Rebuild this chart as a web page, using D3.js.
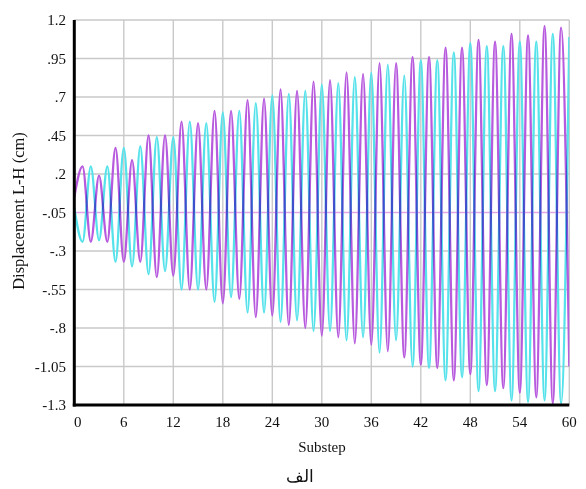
<!DOCTYPE html>
<html><head><meta charset="utf-8">
<script src="https://cdn.jsdelivr.net/npm/d3@7"></script>
<style>
html,body{margin:0;padding:0;background:#fff;}
svg{display:block;}
text{font-family:"Liberation Serif","Times New Roman",serif;fill:#111;}
</style></head>
<body>
<script>
const substeps = d3.range(0, 61);
const xTicks = [0, 6, 12, 18, 24, 30, 36, 42, 48, 54, 60];
const yTicks = [1.2, 0.95, 0.7, 0.45, 0.2, -0.05, -0.3, -0.55, -0.8, -1.05, -1.3];
const yTickLabels = ["1.2", ".95", ".7", ".45", ".2", "-.05", "-.3", "-.55", "-.8", "-1.05", "-1.3"];
const purpleValues = [0.05, 0.25, -0.24, 0.19, -0.24, 0.37, -0.37, 0.29, -0.37, 0.45, -0.47,
  0.45, -0.46, 0.54, -0.55, 0.53, -0.55, 0.61, -0.64, 0.61, -0.61,
  0.68, -0.73, 0.69, -0.72, 0.75, -0.78, 0.74, -0.80, 0.80, -0.85,
  0.81, -0.86, 0.86, -0.90, 0.85, -0.91, 0.92, -0.95, 0.92, -0.99,
  0.96, -1.04, 0.96, -1.06, 1.02, -1.14, 1.02, -1.10, 1.07, -1.17,
  1.06, -1.19, 1.11, -1.22, 1.10, -1.25, 1.16, -1.29, 1.15, -1.05];
const cyanValues = [-0.02, -0.24, 0.25, -0.23, 0.25, -0.37, 0.37, -0.40, 0.38, -0.45, 0.44,
  -0.43, 0.44, -0.55, 0.54, -0.55, 0.53, -0.63, 0.60, -0.60, 0.61,
  -0.70, 0.66, -0.70, 0.71, -0.76, 0.72, -0.75, 0.74, -0.82, 0.78,
  -0.82, 0.79, -0.88, 0.83, -0.86, 0.86, -0.96, 0.91, -0.88, 0.84,
  -1.05, 0.94, -1.06, 0.94, -1.14, 0.99, -1.12, 1.05, -1.21, 1.03,
  -1.21, 1.03, -1.27, 1.06, -1.28, 1.06, -1.27, 1.11, -1.29, 1.09];

const W = 586, H = 489;
const x = d3.scaleLinear().domain([0, 60]).range([74.3, 569.3]);
const y = d3.scaleLinear().domain([-1.3, 1.2]).range([405, 20]);

const svg = d3.select("body").append("svg").attr("width", W).attr("height", H);
svg.append("rect").attr("width", W).attr("height", H).attr("fill", "#fff");

svg.append("defs").append("clipPath").attr("id", "clip")
  .append("rect").attr("x", x(0)).attr("y", y(1.2) - 2).attr("width", x(60) - x(0)).attr("height", y(-1.3) - y(1.2) + 2);

// grid
const grid = svg.append("g");
grid.selectAll("line.h").data(yTicks).join("line")
  .attr("x1", x(0)).attr("x2", x(60)).attr("y1", d => y(d)).attr("y2", d => y(d))
  .attr("stroke", d => d === -0.05 ? "#e2a6e6" : "#c9c9c9").attr("stroke-width", 1.4);
grid.selectAll("line.v").data(xTicks).join("line")
  .attr("y1", y(1.2)).attr("y2", y(-1.3)).attr("x1", d => x(d)).attr("x2", d => x(d))
  .attr("stroke", "#c9c9c9").attr("stroke-width", 1.4);

// series
const line = d3.line().x(d => x(d[0])).y(d => y(d[1])).curve(d3.curveMonotoneX);
const plot = svg.append("g").attr("clip-path", "url(#clip)");
function drawSeries(vals, color) {
  const pts = substeps.map((s, i) => [s, vals[i]]);
  plot.append("path").datum(pts)
    .attr("d", line)
    .attr("fill", "none").attr("stroke", color).attr("stroke-width", 2.3)
    .attr("stroke-linejoin", "round")
    .style("mix-blend-mode", "multiply");
}
drawSeries(cyanValues, "#55e2ea");
drawSeries(purpleValues, "#b75ade");

// axes lines
svg.append("line").attr("x1", x(0)).attr("x2", x(0)).attr("y1", y(1.2)).attr("y2", y(-1.3) + 1.5)
  .attr("stroke", "#000").attr("stroke-width", 3);
svg.append("line").attr("x1", x(0) - 1.5).attr("x2", x(60)).attr("y1", y(-1.3)).attr("y2", y(-1.3))
  .attr("stroke", "#000").attr("stroke-width", 3);

// y tick labels
svg.append("g").selectAll("text").data(yTicks).join("text")
  .attr("x", 66).attr("y", d => y(d) + 5)
  .attr("text-anchor", "end").attr("font-size", 15)
  .text((d, i) => yTickLabels[i]);

// x tick labels
svg.append("g").selectAll("text").data(xTicks).join("text")
  .attr("x", d => x(d) + (d === 0 ? 3.5 : 0)).attr("y", 427)
  .attr("text-anchor", "middle").attr("font-size", 15)
  .text(d => d);

svg.append("text").attr("x", 322).attr("y", 452).attr("text-anchor", "middle")
  .attr("font-size", 15).text("Substep");
svg.append("text").attr("transform", "translate(24,211) rotate(-90)")
  .attr("text-anchor", "middle").attr("font-size", 16.5).text("Displacement L-H (cm)");
svg.append("text").attr("x", 300).attr("y", 482).attr("text-anchor", "middle")
  .attr("font-size", 17).attr("direction", "rtl").text("الف");
</script>
</body></html>
